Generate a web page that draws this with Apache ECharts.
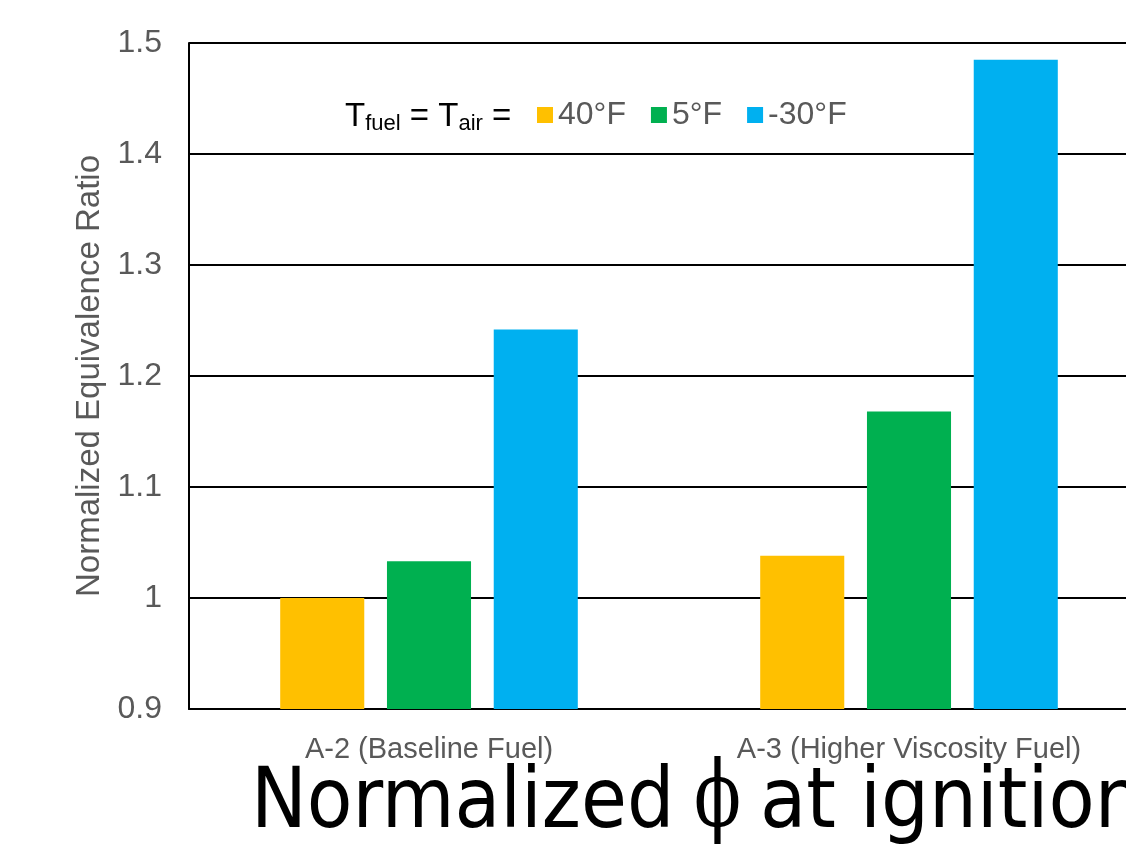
<!DOCTYPE html>
<html>
<head>
<meta charset="utf-8">
<script src="https://cdn.jsdelivr.net/npm/echarts@6/dist/echarts.min.js"></script>
<style>
  html, body { margin: 0; padding: 0; background: #ffffff; overflow: hidden; }
  /* the plot runs a little past the right edge of the window */
  #chart { width: 1150px; height: 844px; }
</style>
</head>
<body>
<div id="chart"></div>
<script>
// Fuel types on the category axis
const categories = ['A-2 (Baseline Fuel)', 'A-3 (Higher Viscosity Fuel)'];

// Normalized equivalence ratio at ignition, per fuel/air temperature
const seriesNames = ['40°F', '5°F', '-30°F'];
const values40F = [1.000, 1.038];
const values5F = [1.033, 1.168];
const valuesMinus30F = [1.242, 1.485];

const seriesColors = ['#FFC000', '#00B050', '#00B0F0'];

// Value axis range
const yMin = 0.9;
const yMax = 1.5;
const yStep = 0.1;

const chart = echarts.init(document.getElementById('chart'), null, { renderer: 'canvas' });

const labelFont = 'Liberation Sans, Arial, sans-serif';
const titleFont = 'DejaVu Sans Condensed, DejaVu Sans, sans-serif';
const gray = '#595959';

const seriesData = [values40F, values5F, valuesMinus30F];

const option = {
  animation: false,
  backgroundColor: '#ffffff',
  grid: { left: 189, top: 43, width: 960, height: 666 },
  legend: {
    data: seriesNames,
    left: 532,
    top: 94,
    icon: 'rect',
    itemWidth: 16,
    itemHeight: 16,
    itemGap: 25,
    textStyle: { color: gray, fontSize: 32, fontFamily: labelFont }
  },
  xAxis: {
    type: 'category',
    data: categories,
    axisLine: { show: true, lineStyle: { color: '#000000', width: 2 } },
    axisTick: { show: false },
    axisLabel: { color: gray, fontSize: 29, fontFamily: labelFont, margin: 26 }
  },
  yAxis: {
    type: 'value',
    min: yMin,
    max: yMax,
    interval: yStep,
    name: 'Normalized Equivalence Ratio',
    nameLocation: 'middle',
    nameGap: 82,
    nameTextStyle: { color: gray, fontSize: 33, fontFamily: labelFont },
    axisLine: { show: true, lineStyle: { color: '#000000', width: 2 } },
    axisTick: { show: false },
    splitLine: { show: true, lineStyle: { color: '#000000', width: 2 } },
    axisLabel: {
      color: gray, fontSize: 32, fontFamily: labelFont, margin: 27,
      formatter: v => String(+v.toFixed(1))
    }
  },
  series: seriesNames.map((name, i) => ({
    name: name,
    type: 'bar',
    data: seriesData[i],
    barGap: '27%',
    barCategoryGap: '38%',
    itemStyle: { color: seriesColors[i] }
  })),
  graphic: [
    {
      type: 'text',
      left: 345,
      top: 100,
      style: {
        text: '{t|T}{s|fuel}{t| = T}{s|air}{t| =}',
        rich: {
          t: { fontSize: 33, fontFamily: labelFont, color: '#000000', lineHeight: 36 },
          s: { fontSize: 22, fontFamily: labelFont, color: '#000000', lineHeight: 14, verticalAlign: 'bottom' }
        }
      }
    },
    {
      type: 'text',
      x: 251,
      y: 805,
      style: {
        text: 'Normalized',
        font: '83px ' + titleFont,
        fill: '#000000',
        verticalAlign: 'middle'
      }
    },
    {
      type: 'text',
      x: 694,
      y: 802,
      scaleX: 0.75,
      style: {
        text: 'ϕ',
        font: '92px DejaVu Serif, Liberation Serif, serif',
        fill: '#000000',
        verticalAlign: 'middle'
      }
    },
    {
      type: 'text',
      x: 760,
      y: 805,
      style: {
        text: 'at ignition',
        font: '84px ' + titleFont,
        fill: '#000000',
        verticalAlign: 'middle'
      }
    }
  ]
};

chart.setOption(option);
</script>
</body>
</html>
